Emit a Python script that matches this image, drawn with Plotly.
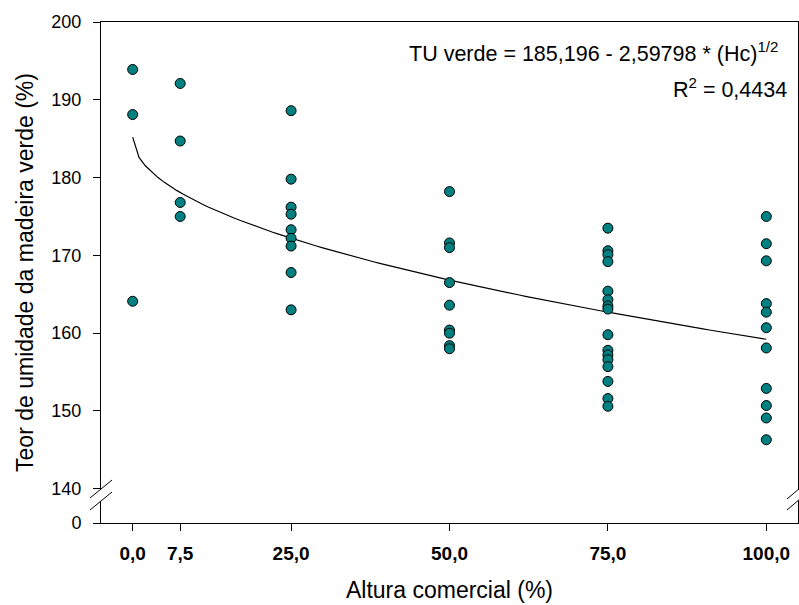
import numpy as np
import plotly.graph_objects as go

# ---- data ----
x_levels = [0.0, 7.5, 25.0, 50.0, 75.0, 100.0]
y_h0 = [193.9, 188.1, 164.1]
y_h7_5 = [192.1, 184.7, 176.8, 175.0]
y_h25 = [188.6, 179.8, 176.2, 175.3, 173.3, 172.2, 171.2, 167.8, 163.0]
y_h50 = [178.2, 171.6, 171.0, 166.5, 163.6, 160.4, 160.0, 158.4, 158.0]
y_h75 = [173.5, 170.6, 170.1, 169.2, 165.4, 164.3, 163.5, 163.1, 159.8,
         157.8, 157.2, 156.6, 155.7, 153.8, 151.6, 150.6]
y_h100 = [175.0, 171.5, 169.3, 163.8, 162.7, 160.7, 158.1, 152.9, 150.7,
          149.1, 146.3]

fit_a = 185.196
fit_b = 2.59798
fit_x = list(range(0, 101))

x_tickvals = [0, 7.5, 25, 50, 75, 100]
x_ticktext = ["0,0", "7,5", "25,0", "50,0", "75,0", "100,0"]
y_break_value = 135.6
y_tickvals = [y_break_value, 140, 150, 160, 170, 180, 190, 200]
y_ticktext = ["0", "140", "150", "160", "170", "180", "190", "200"]

groups = [y_h0, y_h7_5, y_h25, y_h50, y_h75, y_h100]
xs, ys = [], []
for xv, g in zip(x_levels, groups):
    xs += [xv] * len(g)
    ys += g

fit_y = [fit_a - fit_b * np.sqrt(v) for v in fit_x]

FONT = "Arial, Liberation Sans, sans-serif"

fig = go.Figure()
fig.add_trace(go.Scatter(x=fit_x, y=fit_y, mode="lines",
                         line=dict(color="black", width=1.2),
                         hoverinfo="skip", showlegend=False))
fig.add_trace(go.Scatter(x=xs, y=ys, mode="markers",
                         marker=dict(size=10, color="#008080",
                                     line=dict(color="black", width=1)),
                         showlegend=False))

W, H = 799, 605
L, R, T, B = 101, 1, 22, 82
pw, ph = W - L - R, H - T - B

def px(xp):
    return (xp - L) / pw

def py(yp):
    return (H - B - yp) / ph

shapes = []
# white gaps in the vertical axis lines
shapes.append(dict(type="rect", xref="paper", yref="paper",
                   x0=px(98), x1=px(104), y0=py(501), y1=py(489.5),
                   fillcolor="white", line=dict(width=0), layer="above"))
shapes.append(dict(type="rect", xref="paper", yref="paper",
                   x0=px(795), x1=px(800), y0=py(500.5), y1=py(490),
                   fillcolor="white", line=dict(width=0), layer="above"))
# break slashes
for (x0, y0, x1, y1) in [(90, 498, 112, 480), (90, 510, 112, 492),
                         (787, 499, 800, 488), (787, 510, 800, 499)]:
    shapes.append(dict(type="line", xref="paper", yref="paper",
                       x0=px(x0), y0=py(y0), x1=px(x1), y1=py(y1),
                       line=dict(color="black", width=1), layer="above"))

fig.update_layout(
    width=W, height=H,
    margin=dict(l=L, r=R, t=T, b=B),
    paper_bgcolor="white", plot_bgcolor="white",
    font=dict(family=FONT, color="black"),
    shapes=shapes,
    xaxis=dict(range=[-5, 105], tickvals=x_tickvals, ticktext=x_ticktext,
               showgrid=False, zeroline=False, showline=True,
               linecolor="black", linewidth=1, mirror=True,
               ticks="outside", ticklen=7, tickcolor="black",
               tickfont=dict(size=19, family=FONT, weight="bold"),
               ticklabelstandoff=6,
               title=dict(text="Altura comercial (%)",
                          font=dict(size=23, family=FONT), standoff=19)),
    yaxis=dict(range=[y_break_value, 200], tickvals=y_tickvals,
               ticktext=y_ticktext,
               showgrid=False, zeroline=False, showline=True,
               linecolor="black", linewidth=1, mirror=True,
               ticks="outside", ticklen=7, tickcolor="black",
               tickfont=dict(size=18, family=FONT),
               ticklabelstandoff=8,
               title=dict(text="Teor de umidade da madeira verde (%)",
                          font=dict(size=23, family=FONT), standoff=11)),
    annotations=[
        dict(xref="paper", yref="paper", x=px(780), y=py(52),
             xanchor="right", yanchor="middle", showarrow=False,
             text="TU verde = 185,196 - 2,59798 * (Hc)<sup>1/2</sup>",
             font=dict(size=21.5, family=FONT)),
        dict(xref="paper", yref="paper", x=px(789), y=py(88),
             xanchor="right", yanchor="middle", showarrow=False,
             text="R<sup>2</sup> = 0,4434",
             font=dict(size=21.5, family=FONT)),
    ],
)

fig.write_html("out.html")
